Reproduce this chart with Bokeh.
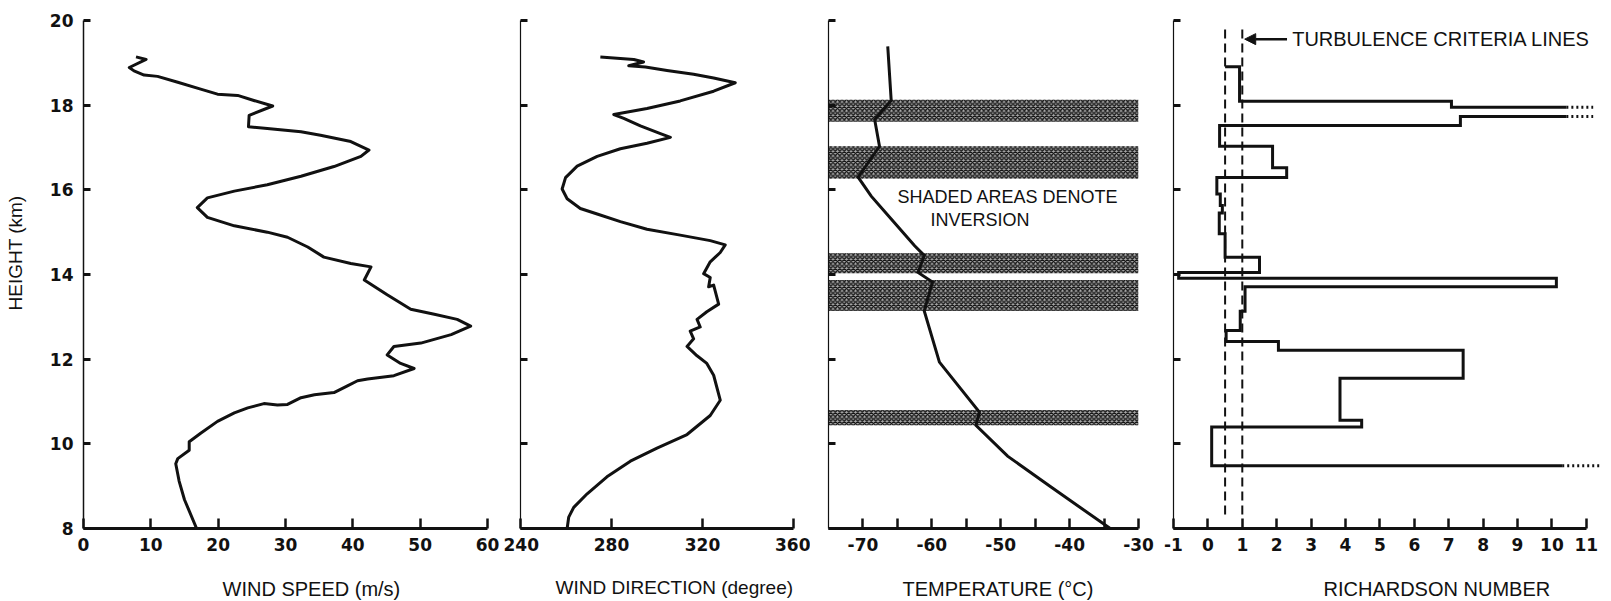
from bokeh.plotting import figure
from bokeh.layouts import row
from bokeh.models import FixedTicker, Range1d, Label, Arrow, NormalHead, Title
from bokeh.embed import file_html
from bokeh.resources import INLINE

# ---------------- data ----------------
height_ticks = [8, 10, 12, 14, 16, 18, 20]
height_labels = ["8", "10", "12", "14", "16", "18", "20"]

# Panel 1: wind speed (m/s) vs height (km)
ws_height = [19.14, 19.08, 18.89, 18.81, 18.71, 18.68, 18.54, 18.38, 18.26, 18.23, 18.11, 17.98,
             17.76, 17.49, 17.45, 17.37, 17.29, 17.14, 16.94, 16.79, 16.55, 16.32, 16.12, 15.97,
             15.81, 15.58, 15.35, 15.15, 15.00, 14.88, 14.65, 14.41, 14.26, 14.18, 13.87, 13.52,
             13.18, 13.06, 12.94, 12.78, 12.58, 12.38, 12.30, 12.10, 11.90, 11.78, 11.61, 11.53,
             11.49, 11.37, 11.21, 11.16, 11.09, 10.93, 10.92, 10.95, 10.85, 10.73, 10.53, 10.25,
             10.05, 9.85, 9.65, 9.53, 9.12, 8.68, 8.0]
ws_speed = [7.8, 9.3, 6.8, 7.5, 9.0, 11.0, 14.0, 17.4, 19.9, 22.9, 25.3, 28.1,
            24.6, 24.5, 27.3, 32.3, 35.2, 39.7, 42.4, 41.2, 37.2, 32.3, 27.3, 22.4,
            18.4, 16.9, 18.4, 22.4, 27.3, 30.3, 33.3, 35.7, 39.7, 42.7, 41.7, 45.1,
            48.6, 52.1, 55.5, 57.5, 54.6, 50.1, 46.1, 45.1, 47.1, 49.1, 46.1, 42.2,
            40.7, 39.2, 37.2, 34.3, 32.3, 30.3, 28.8, 26.8, 24.4, 22.4, 19.9, 17.4,
            15.7, 15.7, 14.0, 13.7, 14.2, 15.0, 16.8]
ws_ticks = [0, 10, 20, 30, 40, 50, 60]
ws_labels = ["0", "10", "20", "30", "40", "50", "60"]

# Panel 2: wind direction (degree) vs height
wd_height = [19.14, 19.08, 19.02, 18.93, 18.90, 18.82, 18.73, 18.64, 18.53, 18.33, 18.10, 17.92,
             17.78, 17.69, 17.51, 17.33, 17.24, 17.10, 16.97, 16.79, 16.56, 16.29, 16.02, 15.79,
             15.56, 15.43, 15.25, 15.07, 14.93, 14.80, 14.70, 14.52, 14.30, 14.02, 13.93, 13.71,
             13.75, 13.30, 13.12, 12.94, 12.76, 12.66, 12.48, 12.30, 12.08, 11.90, 11.62, 11.03,
             10.67, 10.22, 9.90, 9.59, 9.22, 8.82, 8.50, 8.27, 8.0]
wd_dir = [275.1, 289.8, 294.1, 287.6, 294.9, 304.4, 316.1, 324.9, 334.4, 324.9, 310.2, 295.6,
          281.0, 285.4, 292.7, 301.5, 305.9, 295.6, 283.9, 273.7, 264.9, 259.8, 258.3, 260.5,
          266.3, 273.7, 283.9, 295.6, 310.2, 323.4, 330.0, 327.8, 323.4, 320.5, 323.4, 322.7,
          324.9, 327.1, 321.9, 317.6, 319.0, 314.6, 316.1, 313.2, 317.6, 321.9, 324.9, 327.8,
          323.4, 313.2, 300.0, 288.3, 278.0, 269.3, 263.4, 261.2, 260.5]
wd_ticks = [240, 280, 320, 360]
wd_labels = ["240", "280", "320", "360"]

# Panel 3: temperature (deg C) vs height, with inversion layers
temp_height = [19.39, 18.11, 17.66, 17.03, 16.30, 15.85, 15.31, 14.68, 14.45, 14.05, 13.82,
               13.14, 11.93, 10.75, 10.44, 9.71, 8.99, 8.0]
temp_value = [-66.4, -65.9, -68.3, -67.6, -70.7, -68.8, -65.9, -62.5, -61.1, -62.0, -59.9,
              -61.1, -58.9, -53.1, -53.6, -49.0, -42.8, -34.1]
inv_bottom = [17.61, 16.26, 14.03, 13.14, 10.44]
inv_top = [18.13, 17.03, 14.50, 13.87, 10.80]
temp_ticks = [-70, -65, -60, -55, -50, -45, -40, -35, -30]
temp_labels = ["-70", "", "-60", "", "-50", "", "-40", "", "-30"]

# Panel 4: Richardson number by layer (None = off scale)
ri_bounds = [18.91, 18.09, 17.95, 17.73, 17.52, 17.03, 16.52, 16.29, 15.90, 15.63, 15.45, 14.96,
             14.41, 14.05, 13.91, 13.71, 13.13, 12.68, 12.42, 12.21, 11.55, 10.56, 10.40, 9.48]
ri_values = [0.92, 7.08, None, 7.34, 0.34, 1.88, 2.29, 0.26, 0.36, 0.42, 0.33, 0.50,
             1.50, -0.85, 10.13, 1.08, 0.94, 0.53, 2.05, 7.42, 3.84, 4.47, 0.11]
ri_start = 0.5
ri_offscale_solid = 10.42
ri_offscale_edge = 11.2
ri_bottom_solid = 10.3
ri_bottom_edge = 11.38
ri_criteria = [0.5, 1.0]
ri_criteria_span = [8.33, 19.9]
ri_ticks = list(range(-1, 12))
ri_labels = [str(t) for t in ri_ticks]

# ---------------- styling ----------------
INK = "#111111"
TICK_FONT = "DejaVu Sans"
TITLE_FONT = "Liberation Sans"
FRAME_H = 508


def make_fig(xr, fw, left, right, xticks, xlabels, show_y_labels, xbounds=None):
    p = figure(frame_width=fw, frame_height=FRAME_H,
               x_range=Range1d(*xr), y_range=Range1d(8, 20),
               min_border_left=left, min_border_right=right,
               min_border_top=20, min_border_bottom=73,
               toolbar_location=None, output_backend="svg",
               background_fill_color="white", border_fill_color="white")
    p.outline_line_color = None
    p.grid.visible = False
    xa = p.xaxis[0]
    ya = p.yaxis[0]
    xa.ticker = FixedTicker(ticks=xticks)
    xa.major_label_overrides = {t: l for t, l in zip(xticks, xlabels)}
    xa.axis_line_width = 3
    xa.axis_line_color = INK
    xa.major_tick_in = 10
    xa.major_tick_out = 0
    xa.major_tick_line_width = 2.5
    xa.major_tick_line_color = INK
    xa.minor_tick_line_color = None
    xa.major_label_standoff = 9
    xa.major_label_text_font = TICK_FONT
    xa.major_label_text_font_style = "bold"
    xa.major_label_text_font_size = "17px"
    xa.major_label_text_color = INK
    if xbounds is not None:
        xa.bounds = xbounds
    ya.ticker = FixedTicker(ticks=height_ticks)
    if show_y_labels:
        ya.major_label_overrides = {t: l for t, l in zip(height_ticks, height_labels)}
    else:
        ya.major_label_overrides = {t: "" for t in height_ticks}
    ya.axis_line_width = 1.5 if show_y_labels else 1.2
    ya.axis_line_color = INK
    ya.major_tick_in = 7
    ya.major_tick_out = 0
    ya.major_tick_line_width = 3
    ya.major_tick_line_color = INK
    ya.minor_tick_line_color = None
    ya.major_label_standoff = 10
    ya.major_label_text_font = TICK_FONT
    ya.major_label_text_font_style = "bold"
    ya.major_label_text_font_size = "17px"
    ya.major_label_text_color = INK
    return p


def side_title(p, text, offset, side="below", size="20px", standoff=0):
    # a blank line pushes the visible line further from the axis
    p.add_layout(Title(text=text, align="left", offset=offset, standoff=standoff,
                       vertical_align="bottom", text_line_height=1.0,
                       text_font=TITLE_FONT, text_font_size=size, text_font_style="normal",
                       text_color=INK), side)


def note(p, x, y, text, size="18px"):
    p.add_layout(Label(x=x, y=y, text=text, text_align="left", text_baseline="middle",
                       text_font=TITLE_FONT, text_font_size=size, text_color=INK))


# Panel 1
f1 = make_fig((0, 60), 404, 83, 16, ws_ticks, ws_labels, True)
f1.line(ws_speed, ws_height, line_width=3, line_color=INK, line_join="round")
side_title(f1, "\nWIND SPEED (m/s)", 139)
side_title(f1, "HEIGHT (km)\n", 218, side="left", size="19px", standoff=0)

# Panel 2
f2 = make_fig((240, 360), 273, 17, 17, wd_ticks, wd_labels, False)
f2.line(wd_dir, wd_height, line_width=3, line_color=INK, line_join="round")
side_title(f2, "\nWIND DIRECTION (degree)", 35, size="19px")

# Panel 3
f3 = make_fig((-75, -30), 310, 18, 17, temp_ticks, temp_labels, False)
f3.quad(left=-75, right=-30, bottom=inv_bottom, top=inv_top,
        fill_color="#a9a9a9", line_color=None,
        hatch_pattern="diagonal_cross", hatch_color=INK, hatch_scale=4.5, hatch_weight=1.3)
f3.line(temp_value, temp_height, line_width=3, line_color=INK, line_join="miter")
side_title(f3, "\nTEMPERATURE (\u00b0C)", 74)
note(f3, -65.0, 15.82, "SHADED AREAS DENOTE")
note(f3, -60.2, 15.28, "INVERSION")

# Panel 4
f4 = make_fig((-1, 11.5), 430, 18, 8, ri_ticks, ri_labels, False, xbounds=(-1, 11))
for c in ri_criteria:
    f4.line([c, c], ri_criteria_span, line_width=2, line_color=INK, line_dash="9 5")

xs = [ri_start]
ys = [ri_bounds[0]]
dotted = []
for i, v in enumerate(ri_values):
    top, bot = ri_bounds[i], ri_bounds[i + 1]
    if v is None:
        xs += [ri_offscale_solid, float("nan"), ri_offscale_solid]
        ys += [top, float("nan"), bot]
        dotted.append(([ri_offscale_solid, ri_offscale_edge], [top, top]))
        dotted.append(([ri_offscale_solid, ri_offscale_edge], [bot, bot]))
    else:
        xs += [v, v]
        ys += [top, bot]
xs.append(ri_bottom_solid)
ys.append(ri_bounds[-1])
dotted.append(([ri_bottom_solid, ri_bottom_edge], [ri_bounds[-1], ri_bounds[-1]]))

f4.line(xs, ys, line_width=3, line_color=INK, line_join="miter")
for dx, dy in dotted:
    f4.line(dx, dy, line_width=3, line_color=INK, line_dash="2 3")

f4.add_layout(Arrow(end=NormalHead(size=11, fill_color=INK, line_color=INK),
                    x_start=2.3, y_start=19.56, x_end=1.07, y_end=19.56,
                    line_color=INK, line_width=2.5))
note(f4, 2.45, 19.56, "TURBULENCE CRITERIA LINES", size="20px")
side_title(f4, "\nRICHARDSON NUMBER", 150)

layout = row(f1, f2, f3, f4)
open("out.html", "w").write(file_html(layout, INLINE))
